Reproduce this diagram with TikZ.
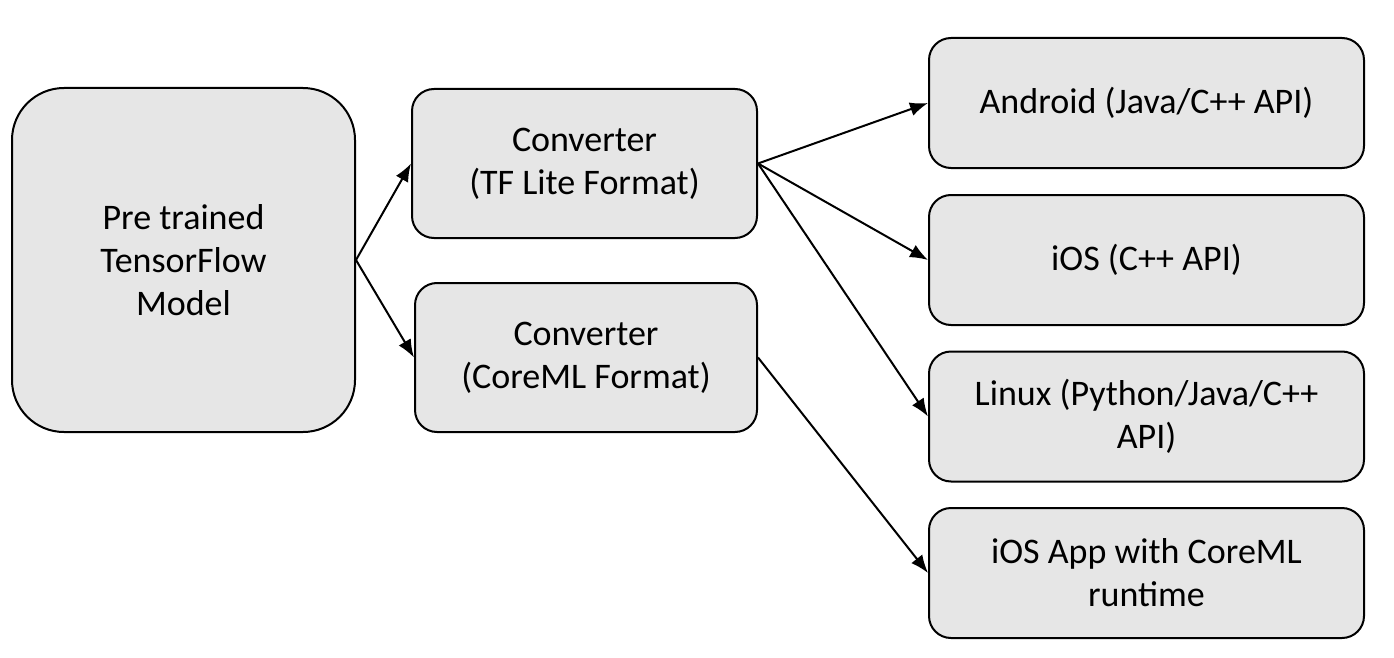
\documentclass[tikz,border=0pt]{standalone}
\usepackage{fontspec}
\setmainfont{Carlito}
\usetikzlibrary{arrows.meta}
\definecolor{boxgray}{HTML}{E6E6E6}

\begin{document}
\begin{tikzpicture}[x=1pt, y=-1pt,
    stage/.style={draw=black, line width=2pt, fill=boxgray, rounded corners=22pt,
      align=center, inner sep=0pt, font=\fontsize{36}{43}\selectfont},
    flow/.style={-{Latex[length=18pt, width=14pt]}, line width=2pt}]
        \useasboundingbox (0,0) rectangle (1394,658);
        \node[stage, rounded corners=52pt, minimum width=343pt, minimum height=344pt]
        (model) at (183.5,260) {Pre trained\\TensorFlow\\Model};
        \node[stage, minimum width=345pt, minimum height=149pt]
        (tflite) at (584.5,163.5) {Converter\\(TF Lite Format)};
        \node[stage, minimum width=342pt, minimum height=149pt]
        (coreml) at (586,357.5) {Converter\\(CoreML Format)};

        \node[stage, minimum width=435pt, minimum height=130pt]
        (android) at (1146.5,103) {Android (Java/C++ API)};
        \node[stage, minimum width=435pt, minimum height=130pt]
        (ios) at (1146.5,260) {iOS (C++ API)};
        \node[stage, minimum width=435pt, minimum height=130pt]
        (linux) at (1146.5,416.5) {Linux (Python/Java/C++\\API)};
        \node[stage, minimum width=435pt, minimum height=130pt]
        (iosapp) at (1146.5,573) {iOS App with CoreML\\runtime};

        \draw[flow] (model.east) -- (tflite.west);
        \draw[flow] (model.east) -- (coreml.west);
        \draw[flow] (tflite.east) -- (android.west);
        \draw[flow] (tflite.east) -- (ios.west);
        \draw[flow] (tflite.east) -- (linux.west);
        \draw[flow] (coreml.east) -- (iosapp.west);
    \end{tikzpicture}
\end{document}
